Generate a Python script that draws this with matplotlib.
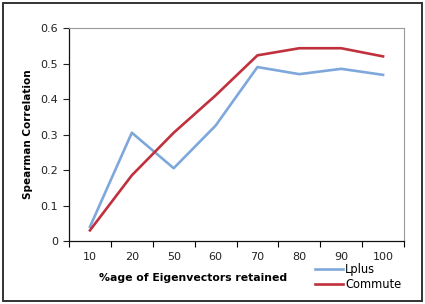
import matplotlib
matplotlib.use("Agg")
import matplotlib.pyplot as plt
from matplotlib.patches import Rectangle

categories = ["10", "20", "50", "60", "70", "80", "90", "100"]
lplus = [0.04, 0.305, 0.205, 0.325, 0.490, 0.470, 0.485, 0.468]
commute = [0.03, 0.185, 0.305, 0.410, 0.523, 0.543, 0.543, 0.520]
yticks = [0, 0.1, 0.2, 0.3, 0.4, 0.5, 0.6]
ytick_labels = ["0", "0.1", "0.2", "0.3", "0.4", "0.5", "0.6"]

plt.rcParams["font.family"] = "DejaVu Sans"

fig = plt.figure(figsize=(4.25, 3.04), dpi=100)
ax = fig.add_axes([0.1624, 0.2072, 0.7882, 0.7007])

x = list(range(len(categories)))
ax.plot(x, lplus, color="#7ea8dc", linewidth=1.9, label="Lplus")
ax.plot(x, commute, color="#c0313d", linewidth=1.9, label="Commute")

ax.set_xlim(-0.5, len(categories) - 0.5)
ax.set_ylim(0, 0.6)
ax.set_xticks(x)
ax.set_xticklabels(categories)
ax.set_xticks([i - 0.5 for i in range(len(categories) + 1)], minor=True)
ax.tick_params(axis="x", which="major", length=0, pad=8, labelsize=8, colors="#222222")
ax.tick_params(axis="x", which="minor", length=4, direction="out", width=0.8)
ax.set_yticks(yticks)
ax.set_yticklabels(ytick_labels)
ax.tick_params(axis="y", length=4, direction="out", width=0.8, labelsize=8, colors="#222222", pad=4)

for side in ["top", "right"]:
    ax.spines[side].set_color("#999999")
    ax.spines[side].set_linewidth(0.8)
for side in ["left", "bottom"]:
    ax.spines[side].set_color("#111111")
    ax.spines[side].set_linewidth(0.9)

ax.set_xlabel("%age of Eigenvectors retained", fontsize=7.8, fontweight="bold")
ax.xaxis.set_label_coords(0.37, -0.152)
ax.set_ylabel("Spearman Correlation", fontsize=7.5, fontweight="bold", labelpad=5)

fig.legend(loc="lower right", bbox_to_anchor=(0.955, 0.026), frameon=False,
           fontsize=8.3, handlelength=2.4, handletextpad=0.2, labelspacing=0.25,
           borderaxespad=0)

fig.patches.append(Rectangle((0.006, 0.01), 0.986, 0.98, transform=fig.transFigure,
                             fill=False, edgecolor="#333333", linewidth=1.4))

fig.savefig("out.png", dpi=100)
